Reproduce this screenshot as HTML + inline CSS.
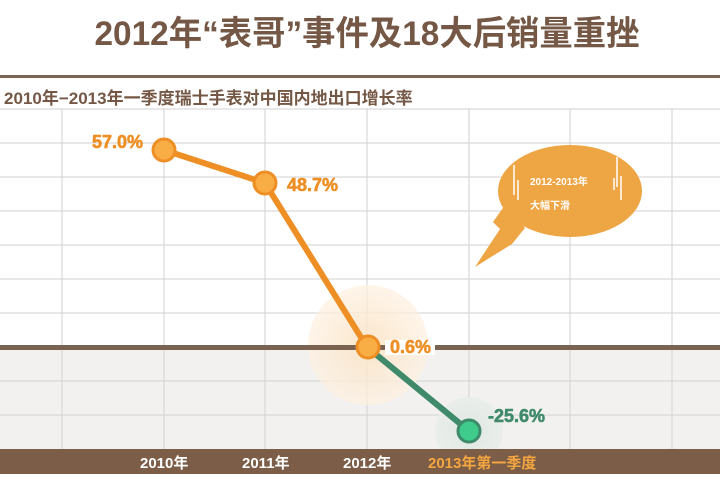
<!DOCTYPE html>
<html><head><meta charset="utf-8"><style>
html,body{margin:0;padding:0;background:#fff;}
body{width:720px;height:474px;overflow:hidden;}
</style></head><body>
<svg width="720" height="474" viewBox="0 0 720 474" xmlns="http://www.w3.org/2000/svg" font-family="'Liberation Sans','Noto Sans CJK SC',sans-serif">
<rect width="720" height="474" fill="#fff"/>
<text x="367" y="45" text-anchor="middle" font-size="34" font-weight="bold" fill="#745845" textLength="545" lengthAdjust="spacingAndGlyphs">2012年“表哥”事件及18大后销量重挫</text>
<rect x="0" y="75" width="720" height="3" fill="#7b6656"/>
<text x="4" y="104" font-size="17" font-weight="bold" fill="#745845">2010年−2013年一季度瑞士手表对中国内地出口增长率</text>
<rect x="0" y="348" width="720" height="101" fill="#f3f1f0"/>
<g stroke="#d2d2d2" stroke-width="1">
<line x1="0" y1="109" x2="720" y2="109"/>
<line x1="0" y1="143" x2="720" y2="143"/>
<line x1="0" y1="177" x2="720" y2="177"/>
<line x1="0" y1="211" x2="720" y2="211"/>
<line x1="0" y1="245" x2="720" y2="245"/>
<line x1="0" y1="279" x2="720" y2="279"/>
<line x1="0" y1="313" x2="720" y2="313"/>
<line x1="0" y1="381" x2="720" y2="381"/>
<line x1="0" y1="415" x2="720" y2="415"/>
<line x1="62" y1="109" x2="62" y2="449"/>
<line x1="164" y1="109" x2="164" y2="449"/>
<line x1="265" y1="109" x2="265" y2="449"/>
<line x1="367" y1="109" x2="367" y2="449"/>
<line x1="469" y1="109" x2="469" y2="449"/>
<line x1="570" y1="109" x2="570" y2="449"/>
<line x1="672" y1="109" x2="672" y2="449"/>
</g>
<defs>
<radialGradient id="g1"><stop offset="0" stop-color="#fbe3c4" stop-opacity="0.9"/><stop offset="1" stop-color="#fdf0e0" stop-opacity="0.7"/></radialGradient>
<radialGradient id="g2"><stop offset="0" stop-color="#dfe7e2"/><stop offset="1" stop-color="#eaeeeb"/></radialGradient>
</defs>
<circle cx="368" cy="345" r="60" fill="url(#g1)"/>
<circle cx="469" cy="431" r="34" fill="url(#g2)"/>
<rect x="0" y="345" width="720" height="5" fill="#7b6352"/>
<rect x="385" y="340" width="50" height="15" fill="#fff"/>
<rect x="0" y="449" width="720" height="25" fill="#7b5d48"/>
<polyline points="164,150 265,183 367,347" fill="none" stroke="#ee8f25" stroke-width="6"/>
<line x1="367" y1="347" x2="469" y2="431" stroke="#3e8a6a" stroke-width="6"/>
<g stroke="#ee8f25" stroke-width="3" fill="#f8ad45">
<circle cx="164" cy="150" r="11"/>
<circle cx="265" cy="183" r="11"/>
<circle cx="368" cy="347" r="11"/>
</g>
<circle cx="469" cy="431" r="11" fill="#3ecb8c" stroke="#3e8a6a" stroke-width="3"/>
<g font-size="18" font-weight="bold" fill="#ee8f25" stroke="#ee8f25" stroke-width="0.6">
<text x="92" y="148">57.0%</text>
<text x="287" y="191">48.7%</text>
<text x="390" y="353">0.6%</text>
</g>
<text x="488" y="422" font-size="18" font-weight="bold" fill="#3e8a6a" stroke="#3e8a6a" stroke-width="0.6">-25.6%</text>
<g font-size="15" font-weight="bold">
<text x="140" y="468" fill="#fff">2010年</text>
<text x="242" y="468" fill="#fff">2011年</text>
<text x="343" y="468" fill="#fff">2012年</text>
<text x="428" y="468" fill="#f5a640">2013年第一季度</text>
</g>
<polygon points="505,205 493,222 500,229 475,267 512,244 525,228" fill="#eea544"/>
<ellipse cx="570" cy="191" rx="72" ry="46" fill="#eea544"/>
<g stroke="#fff" stroke-width="1.5">
<line x1="514" y1="165" x2="514" y2="195"/>
<line x1="518" y1="180" x2="518" y2="200"/>
<line x1="617" y1="157" x2="617" y2="187"/>
<line x1="621" y1="176" x2="621" y2="200"/>
<line x1="614" y1="178" x2="614" y2="190"/>
</g>
<text x="530" y="185" font-size="10" font-weight="bold" fill="#fff">2012-2013年</text>
<text x="530" y="209" font-size="10" font-weight="bold" fill="#fff">大幅下滑</text>
</svg>
</body></html>
